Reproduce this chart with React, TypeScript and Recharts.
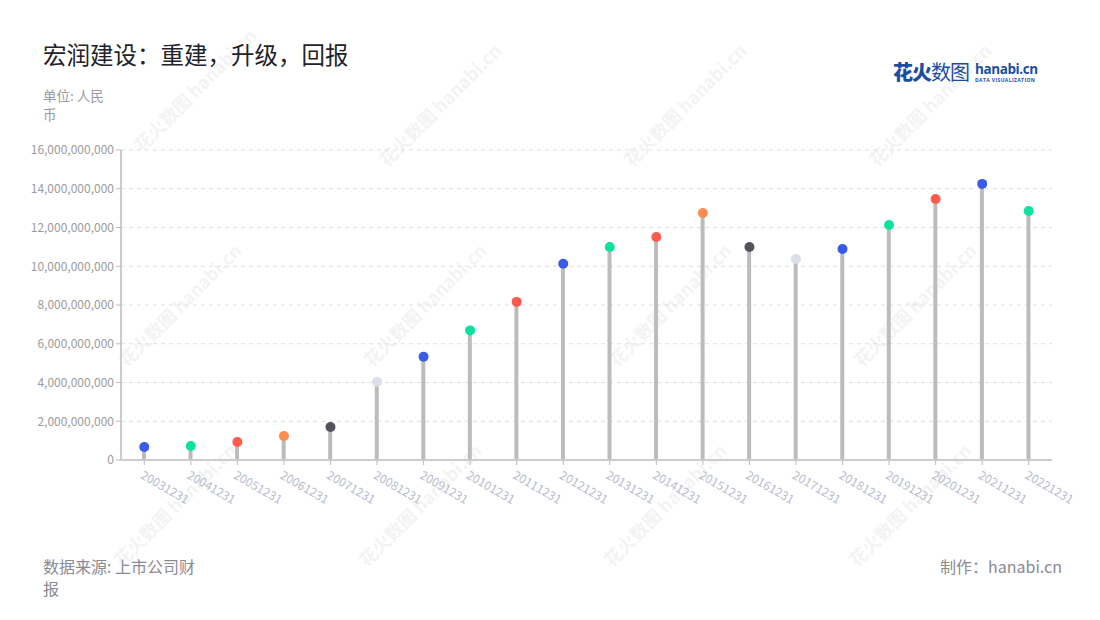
import React from "react";
import {
  Bar,
  CartesianGrid,
  ComposedChart,
  Line,
  XAxis,
  YAxis,
} from "recharts";

const FONT = '"Noto Sans CJK SC", "Noto Sans", sans-serif';

// report dates (fiscal year end)
const periods = [
  "20031231", "20041231", "20051231", "20061231", "20071231",
  "20081231", "20091231", "20101231", "20111231", "20121231",
  "20131231", "20141231", "20151231", "20161231", "20171231",
  "20181231", "20191231", "20201231", "20211231", "20221231",
];

// revenue, RMB
const revenue = [
  0.67e9, 0.72e9, 0.93e9, 1.24e9, 1.7e9,
  4.04e9, 5.33e9, 6.69e9, 8.16e9, 10.13e9,
  10.99e9, 11.51e9, 12.75e9, 10.99e9, 10.37e9,
  10.89e9, 12.13e9, 13.47e9, 14.25e9, 12.85e9,
];

const dotColors = [
  "#3a5bea", "#0be29e", "#fe5b4e", "#ff8b4f", "#53535d",
  "#dcdfe9", "#3a5bea", "#0be29e", "#fe5b4e", "#3a5bea",
  "#0be29e", "#fe5b4e", "#ff8b4f", "#53535d", "#dcdfe9",
  "#3a5bea", "#0be29e", "#fe5b4e", "#3a5bea", "#0be29e",
];

const yTicks = [0, 2e9, 4e9, 6e9, 8e9, 10e9, 12e9, 14e9, 16e9];

const data = periods.map((p, i) => ({ period: p, value: revenue[i] }));

const watermarkSpots = [
  [200, 95], [445, 110], [690, 110], [935, 110],
  [185, 310], [430, 310], [675, 310], [920, 310],
  [180, 510], [425, 510], [670, 510], [915, 510],
];

function XTick(props: any) {
  const { x, y, payload } = props;
  const tx = x + 1;
  const ty = y + 1;
  return (
    <text
      x={tx}
      y={ty}
      transform={`rotate(30, ${tx}, ${ty})`}
      textAnchor="start"
      dominantBaseline="hanging"
      fill="#b8bccb"
      fontSize={12}
      fontFamily={FONT}
    >
      {payload.value}
    </text>
  );
}

function Dot(props: any) {
  const { cx, cy, index } = props;
  if (cx == null || cy == null) return null;
  return <circle key={index} cx={cx} cy={cy} r={5} fill={dotColors[index]} />;
}

function Watermark({ x, y }: { x: number; y: number }) {
  return (
    <g transform={`rotate(-45, ${x}, ${y})`} opacity={0.045}>
      <text
        x={x}
        y={y}
        textAnchor="middle"
        fontSize={18}
        fontWeight={700}
        fontFamily={FONT}
        fill="#000"
      >
        花火数图 hanabi.cn
      </text>
    </g>
  );
}

export default function App() {
  return (
    <div
      style={{
        position: "absolute",
        left: 0,
        top: 0,
        width: 1100,
        height: 620,
        background: "#fff",
        fontFamily: FONT,
      }}
    >
      <svg
        width={1100}
        height={620}
        style={{ position: "absolute", left: 0, top: 0 }}
      >
        {watermarkSpots.map(([x, y]) => (
          <Watermark key={`${x}-${y}`} x={x} y={y} />
        ))}
      </svg>

      <div style={{ position: "absolute", left: 0, top: 0 }}>
        <ComposedChart
          width={1100}
          height={620}
          data={data}
          margin={{ top: 150, right: 48, bottom: 100, left: 0 }}
        >
          <CartesianGrid
            vertical={false}
            stroke="#dedede"
            strokeDasharray="4 4"
          />
          <XAxis
            dataKey="period"
            interval={0}
            height={60}
            axisLine={{ stroke: "#cccccc", strokeWidth: 2 }}
            tickLine={{ stroke: "#bbbbbb" }}
            tickSize={5}
            tick={<XTick />}
          />
          <YAxis
            width={121}
            domain={[0, 16e9]}
            ticks={yTicks}
            interval={0}
            axisLine={{ stroke: "#cccccc", strokeWidth: 2 }}
            tickLine={{ stroke: "#bbbbbb" }}
            tickSize={5}
            tickFormatter={(v: number) => v.toLocaleString("en-US")}
            tick={{ fill: "#9b9b9b", fontSize: 12, fontFamily: FONT }}
          />
          <Bar
            dataKey="value"
            barSize={4}
            fill="#bcbcbc"
            isAnimationActive={false}
          />
          <Line
            dataKey="value"
            stroke="transparent"
            strokeWidth={0}
            dot={<Dot />}
            activeDot={false}
            isAnimationActive={false}
          />
        </ComposedChart>
      </div>

      <div
        style={{
          position: "absolute",
          left: 43,
          top: 37,
          fontSize: 23.5,
          color: "#222228",
          lineHeight: "34px",
        }}
      >
        宏润建设：重建，升级，回报
      </div>
      <div
        style={{
          position: "absolute",
          left: 43,
          top: 86,
          fontSize: 13.5,
          color: "#9a9aa2",
          lineHeight: "19px",
        }}
      >
        单位: 人民
        <br />币
      </div>

      <div
        style={{
          position: "absolute",
          left: 893,
          top: 59,
          fontSize: 20,
          color: "#1b4ea3",
          lineHeight: "26px",
          letterSpacing: -1,
        }}
      >
        <span style={{ fontWeight: 900 }}>花火</span>
        <span style={{ fontWeight: 400 }}>数图</span>
      </div>
      <div
        style={{
          position: "absolute",
          left: 975,
          top: 61,
          color: "#1b4ea3",
        }}
      >
        <div
          style={{
            fontSize: 13.5,
            fontWeight: 700,
            fontFamily: '"Open Sans", sans-serif',
            lineHeight: "16px",
            letterSpacing: -0.4,
          }}
        >
          hanabi.cn
        </div>
        <div
          style={{
            fontSize: 5,
            fontWeight: 700,
            lineHeight: "6px",
            letterSpacing: 0.4,
            fontFamily: '"Open Sans", sans-serif',
          }}
        >
          DATA VISUALIZATION
        </div>
      </div>

      <div
        style={{
          position: "absolute",
          left: 43,
          top: 555,
          fontSize: 16,
          color: "#8a8a92",
          lineHeight: "22px",
        }}
      >
        数据来源: 上市公司财
        <br />报
      </div>
      <div
        style={{
          position: "absolute",
          right: 38,
          top: 555,
          fontSize: 16,
          color: "#8a8a92",
          lineHeight: "22px",
        }}
      >
        制作：hanabi.cn
      </div>
    </div>
  );
}
